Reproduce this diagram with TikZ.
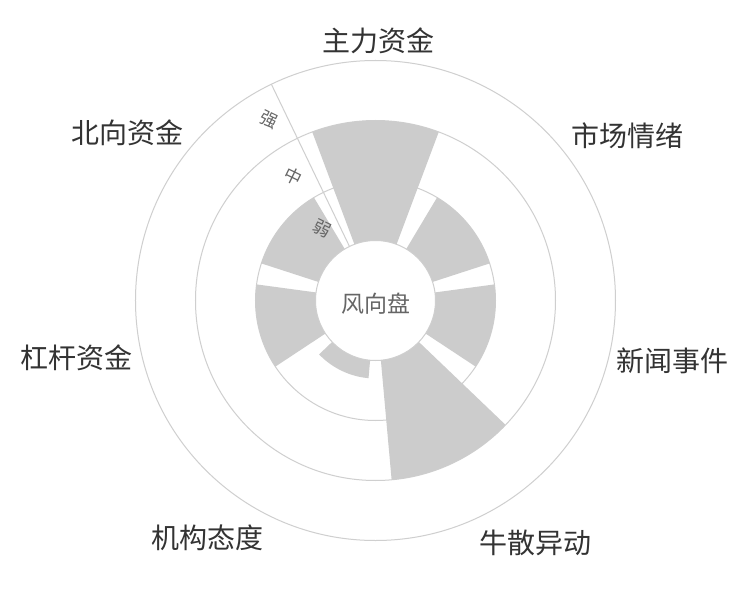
\documentclass[tikz,border=0pt]{standalone}
\usepackage{fontspec}
\newfontfamily\cjk{Noto Sans CJK SC}
\definecolor{barfill}{HTML}{CCCCCC}
\definecolor{gridline}{HTML}{CFCFCF}
\definecolor{labeltext}{HTML}{333333}
\definecolor{axistext}{HTML}{666666}
\begin{document}
\begin{tikzpicture}[x=1pt,y=1pt,
    bar/.style={fill=barfill},
    ring/.style={draw=gridline,line width=1pt},
    catlabel/.style={font=\cjk\fontsize{28}{28}\selectfont,text=labeltext,inner sep=0pt},
    hublabel/.style={font=\cjk\fontsize{23}{23}\selectfont,text=axistext,inner sep=0pt},
    ticklabel/.style={font=\cjk\fontsize{17.5}{17.5}\selectfont,text=axistext,inner sep=0pt,rotate=-26}]
  \useasboundingbox[fill=white] (-375.5,-299.5) rectangle (374.5,300.5);
  \foreach \r in {120,180,240}
    \draw[ring] (0,0) circle[radius=\r];
  \foreach \a/\r in {90/180,38.57/120,-12.86/120,-64.29/180,-115.71/78,-167.14/120,141.43/120}
    \fill[bar] (\a-20.57:60) arc[start angle=\a-20.57,end angle=\a+20.57,radius=60]
      -- (\a+20.57:\r) arc[start angle=\a+20.57,end angle=\a-20.57,radius=\r] -- cycle;
  \draw[ring] (0,0) circle[radius=60];
  \coordinate (axisin) at (115.71:60);
  \coordinate (axisout) at (115.71:240);
  \draw[ring] (axisin) -- (axisout);
  \node[hublabel] (hub) at (1,-3.5) {风向盘};
  \foreach \name/\x/\y [count=\i] in {主力资金/3/259.5,市场情绪/251.5/164.5,新闻事件/296.5/-60.5,
      牛散异动/159.5/-242.5,机构态度/-167.5/-237.5,杠杆资金/-299/-57.5,北向资金/-248/167.5}
    \node[catlabel] (cat\i) at (\x,\y) {\name};
  \foreach \name/\x/\y [count=\i] in {强/-106.5/180.5,中/-82.5/124.5,弱/-53.5/71.5}
    \node[ticklabel] (tick\i) at (\x,\y) {\name};
\end{tikzpicture}
\end{document}
